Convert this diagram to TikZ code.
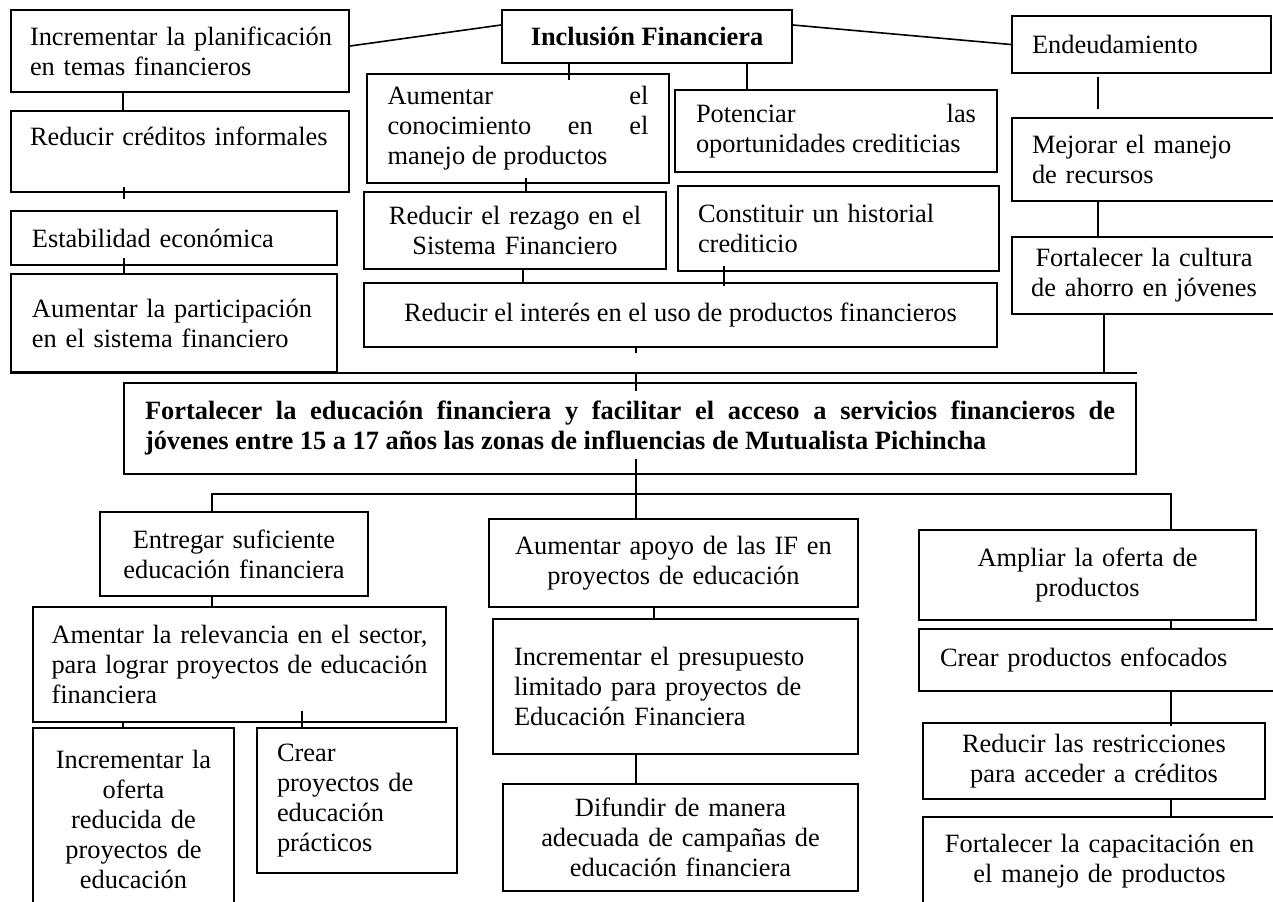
\documentclass[tikz,border=0pt]{standalone}
\usepackage{fontspec}
\setmainfont{Liberation Serif}
\tolerance=10000
\hbadness=10000
\hyphenpenalty=10000

\begin{document}
\begin{tikzpicture}[x = 0.5pt, y = -0.5pt,
        caja/.style = {draw, line width = 1pt, inner sep = 0pt,
            font = \fontsize{13.2}{15}\selectfont},
        titulo/.style = {caja, font = \fontsize{13.2}{15}\selectfont\bfseries},
        linea/.style = {line width = 0.8pt}]
    % \draw[style = help lines] (0,0) grid[step = 100] (1273,901);
    \useasboundingbox (0,0) rectangle (1273,901);

    % efectos, izquierda
    \node[caja, minimum width = 169pt, minimum height = 41pt, text width = 150pt, align = left] (planif) at (180,51) {\mbox{Incrementar la planificación}\\en temas financieros};
    \node[caja, minimum width = 169pt, minimum height = 40.5pt, text width = 150pt, align = left] (creditos) at (180,151.5) {\mbox{Reducir créditos informales}\\\mbox{}};
    \node[caja, minimum width = 163pt, minimum height = 27pt, text width = 142pt, align = left] (estab) at (174,238) {Estabilidad económica};
    \node[caja, minimum width = 163pt, minimum height = 49pt, text width = 142pt, align = left] (particip) at (174,323) {\mbox{Aumentar la participación}\\en el sistema financiero};

    % efectos, centro
    \node[titulo, minimum width = 145pt, minimum height = 26.5pt] (inclusion) at (647,36.5) {Inclusión Financiera};
    \node[caja, minimum width = 151pt, minimum height = 54.5pt, text width = 130.5pt, align = justify] (conoc) at (518,128.5) {Aumentar el\linebreak conocimiento en el\linebreak manejo de productos};
    \node[caja, minimum width = 161pt, minimum height = 41pt, text width = 140pt, align = justify] (potenciar) at (836,131) {Potenciar las\linebreak oportunidades crediticias};
    \node[caja, minimum width = 151pt, minimum height = 38.5pt, text width = 145pt, align = center] (rezago) at (515,230.5) {Reducir el rezago en el\\Sistema Financiero};
    \node[caja, minimum width = 160.5pt, minimum height = 42.5pt, text width = 140.5pt, align = left] (historial) at (838.5,228.5) {Constituir un historial\\crediticio};
    \node[caja, minimum width = 316.5pt, minimum height = 32pt] (interes) at (680.5,315) {Reducir el interés en el uso de productos financieros};

    % efectos, derecha
    \node[caja, minimum width = 129.5pt, minimum height = 28.5pt, text width = 109.5pt, align = left] (endeud) at (1141.5,44.5) {Endeudamiento};
    \node[caja, minimum width = 132pt, minimum height = 41.5pt, text width = 112pt, align = left] (mejorar) at (1144,159.5) {Mejorar el manejo\\de recursos};
    \node[caja, minimum width = 132pt, minimum height = 38.5pt, text width = 125pt, align = center] (cultura) at (1144,275.5) {Fortalecer la cultura\\de ahorro en jóvenes};

    % objetivo
    \node[titulo, minimum width = 506pt, minimum height = 45.5pt, text width = 485pt, align = justify] (principal) at (630,428.5) {Fortalecer la educación financiera y facilitar el acceso a servicios financieros de\linebreak jóvenes entre 15 a 17 años las zonas de influencias de Mutualista Pichincha};

    % medios
    \node[caja, minimum width = 134pt, minimum height = 42pt, text width = 125pt, align = center] (entregar) at (234,554) {Entregar suficiente\\educación financiera};
    \node[caja, minimum width = 184.5pt, minimum height = 44pt, text width = 170pt, align = center] (apoyo) at (673.5,563) {Aumentar apoyo de las IF en\\proyectos de educación};
    \node[caja, minimum width = 168.5pt, minimum height = 45pt, text width = 160pt, align = center] (ampliar) at (1087.5,575) {Ampliar la oferta de\\productos};

    \node[caja, minimum width = 206.5pt, minimum height = 57.5pt, text width = 188pt, align = justify] (relev) at (239.5,664.5) {Amentar la relevancia en el sector,\linebreak para lograr proyectos de educación\linebreak financiera};
    \node[caja, minimum width = 100.5pt, minimum height = 91pt, text width = 95pt, align = center] (oferta) at (133.5,819) {Incrementar la\\oferta\\reducida de\\proyectos de\\educación};
    \node[caja, minimum width = 100pt, minimum height = 72.5pt, text width = 80pt, align = left] (practicos) at (357,800.5) {Crear\\proyectos de\\educación\\prácticos};

    \node[caja, minimum width = 182.5pt, minimum height = 67.5pt, text width = 161.5pt, align = left] (presup) at (675.5,686.5) {Incrementar el presupuesto\\limitado para proyectos de\\Educación Financiera};
    \node[caja, minimum width = 177.5pt, minimum height = 53.5pt, text width = 165pt, align = center] (difundir) at (680.5,837.5) {Difundir de manera\\adecuada de campañas de\\educación financiera};

    \node[caja, minimum width = 178.5pt, minimum height = 31pt, text width = 157.5pt, align = left] (enfocados) at (1097.5,660) {Crear productos enfocados};
    \node[caja, minimum width = 171pt, minimum height = 38pt, text width = 160pt, align = center] (restric) at (1094,761) {Reducir las restricciones\\para acceder a créditos};
    \node[caja, minimum width = 176.5pt, minimum height = 44pt, text width = 170pt, align = center] (capacit) at (1099.5,861) {Fortalecer la capacitación en\\el manejo de productos};

    % conectores de arriba
    \draw[linea] ([yshift = 2.5pt]planif.east) -- ([yshift = 5.75pt]inclusion.west);
    \draw[linea] ([yshift = 5.75pt]inclusion.east) -- (endeud.west);
    \draw[linea, shorten >= -3.5pt] (inclusion.south -| 569,0) -- (conoc.north -| 569,0);
    \draw[linea] (inclusion.south -| 747,0) -- (potenciar.north -| 747,0);
    \draw[linea, shorten <= -3pt] (conoc.south -| 526,0) -- (rezago.north -| 526,0);
    \draw[linea] (rezago.south -| 523,0) -- (interes.north -| 523,0);
    \draw[linea, shorten <= -3pt, shorten >= -2pt] (historial.south -| 724,0) -- (interes.north -| 724,0);
    \draw[linea] (interes.south -| 636,0) -- ++(0,5);

    \draw[linea] (planif.south -| 123,0) -- (creditos.north -| 123,0);
    \draw[linea, shorten <= -3pt, shorten >= 5.5pt] (creditos.south -| 124,0) -- (estab.north -| 124,0);
    \draw[linea, shorten <= -4pt] (estab.south -| 124,0) -- (particip.north -| 124,0);

    \draw[linea, shorten <= 1.5pt, shorten >= 4pt] (endeud.south -| 1098,0) -- (mejorar.north -| 1098,0);
    \draw[linea] (mejorar.south -| 1098,0) -- (cultura.north -| 1098,0);

    % barra sobre el objetivo
    \coordinate (barfin) at (1137,373);
    \draw[linea] (particip.south west) -- (particip.south west -| barfin);
    \draw[linea] (cultura.south -| 1104,0) -- (barfin -| 1104,0);
    \draw[linea, shorten >= -4.5pt] (barfin -| 636,0) -- (principal.north -| 636,0);

    % conectores de abajo
    \coordinate (bus) at (636,494);
    \draw[linea, shorten <= -8pt] (principal.south -| bus) -- (apoyo.north -| bus);
    \draw[linea] (entregar.north -| 212,0) |- (bus) -| (ampliar.north -| 1171,0);
    \draw[linea] (entregar.south -| 212,0) -- (relev.north -| 212,0);
    \draw[linea] (relev.south -| 123,0) -- (oferta.north -| 123,0);
    \draw[linea, shorten <= -6pt] (relev.south -| 302,0) -- (practicos.north -| 302,0);
    \draw[linea] (apoyo.south -| 654,0) -- (presup.north -| 654,0);
    \draw[linea] (presup.south -| 636,0) -- (difundir.north -| 636,0);
    \draw[linea] (ampliar.south -| 1171,0) -- (enfocados.north -| 1171,0);
    \draw[linea, shorten >= -2pt] (enfocados.south -| 1171,0) -- (restric.north -| 1171,0);
    \draw[linea] (restric.south -| 1171,0) -- (capacit.north -| 1171,0);
\end{tikzpicture}
\end{document}
